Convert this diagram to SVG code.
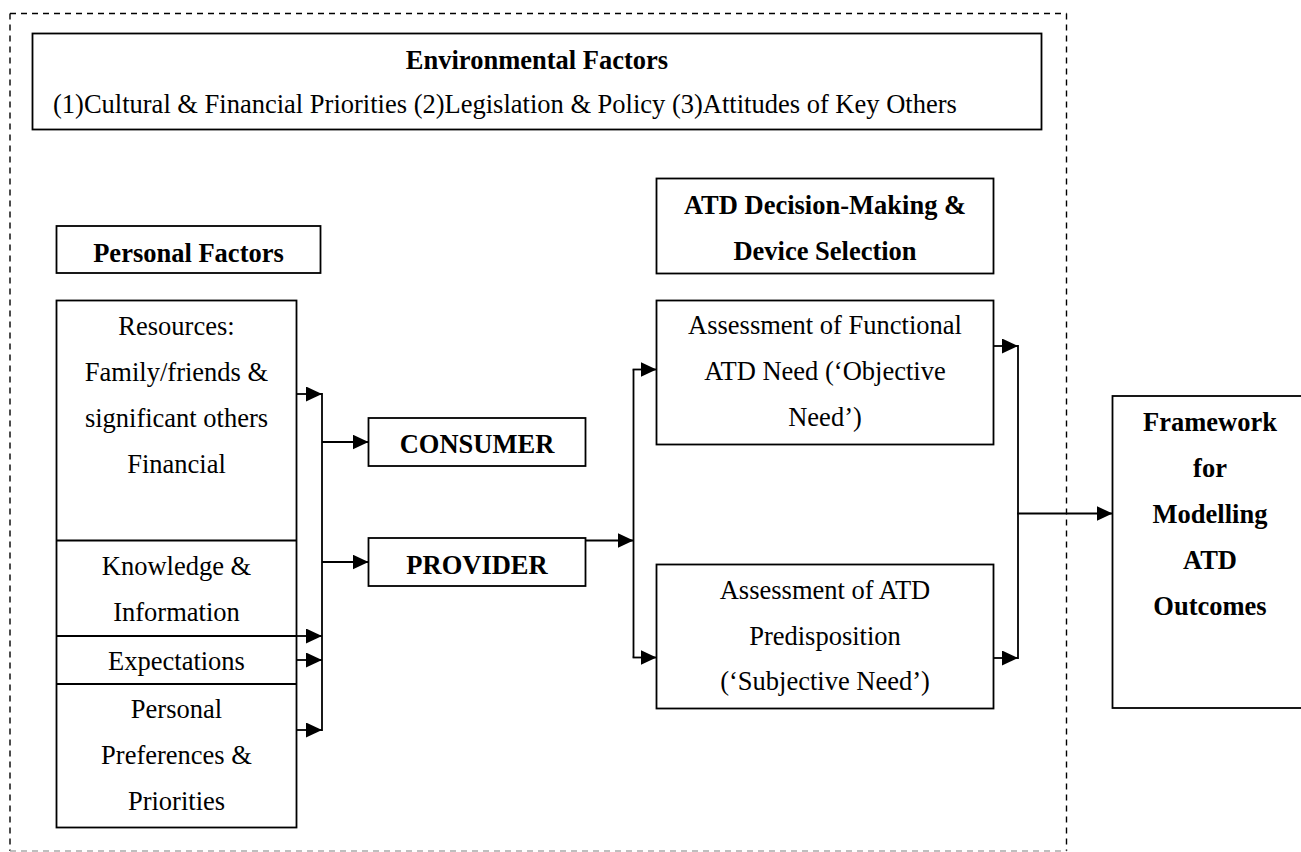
<svg xmlns="http://www.w3.org/2000/svg" width="1301" height="852" viewBox="0 0 1301 852">
  <style>
    .box { fill: #fff; stroke: #000; stroke-width: 1.8; }
    .div { stroke: #000; stroke-width: 1.8; fill: none; }
    .t { font-family: "Liberation Serif", "Times New Roman", serif; font-size: 26.5px; fill: #000; text-anchor: middle; }
    .b { font-weight: bold; }
    .s { text-anchor: start; }
    .wire { stroke: #000; stroke-width: 1.8; fill: none; }
    .arr { stroke: #000; stroke-width: 1.8; fill: none; marker-end: url(#head); }
    .dash { stroke: #000; stroke-width: 1.4; stroke-dasharray: 6 5; fill: none; }
  </style>
  <defs>
    <marker id="head" viewBox="0 0 16 15" refX="16" refY="7.5" markerWidth="16" markerHeight="15" markerUnits="userSpaceOnUse" orient="auto">
      <path d="M0,0 L16,7.5 L0,15 Z" fill="#000"/>
    </marker>
  </defs>
  <rect width="1301" height="852" fill="#fff"/>

  <!-- dashed boundary -->
  <g id="boundary">
    <line class="dash" x1="10" y1="13.5" x2="1066.5" y2="13.5"/>
    <line class="dash" x1="10" y1="13.5" x2="10" y2="851"/>
    <line class="dash" x1="1066.5" y1="13.5" x2="1066.5" y2="851"/>
    <line class="dash" x1="10" y1="851" x2="1066.5" y2="851" style="stroke:#aaa"/>
  </g>

  <g id="environmental">
    <rect class="box" x="32.5" y="33.5" width="1009" height="96"/>
    <text class="t b" x="537" y="69">Environmental Factors</text>
    <text class="t s" x="53" y="113">(1)Cultural &amp; Financial Priorities (2)Legislation &amp; Policy (3)Attitudes of Key Others</text>
  </g>

  <g id="personal-header">
    <rect class="box" x="56.5" y="226" width="264" height="47"/>
    <text class="t b" x="188.5" y="261.5">Personal Factors</text>
  </g>

  <g id="personal-factors">
    <rect class="box" x="56.5" y="300.5" width="240" height="527"/>
    <line class="div" x1="56.5" y1="540.5" x2="296.5" y2="540.5"/>
    <line class="div" x1="56.5" y1="636" x2="296.5" y2="636"/>
    <line class="div" x1="56.5" y1="684" x2="296.5" y2="684"/>
    <text class="t" x="176.5" y="335">Resources:</text>
    <text class="t" x="176.5" y="381">Family/friends &amp;</text>
    <text class="t" x="176.5" y="427">significant others</text>
    <text class="t" x="176.5" y="473">Financial</text>
    <text class="t" x="176.5" y="575">Knowledge &amp;</text>
    <text class="t" x="176.5" y="621">Information</text>
    <text class="t" x="176.5" y="670">Expectations</text>
    <text class="t" x="176.5" y="718">Personal</text>
    <text class="t" x="176.5" y="764">Preferences &amp;</text>
    <text class="t" x="176.5" y="810">Priorities</text>
  </g>

  <g id="consumer">
    <rect class="box" x="368.5" y="418" width="217" height="48"/>
    <text class="t b" x="477" y="453">CONSUMER</text>
  </g>

  <g id="provider">
    <rect class="box" x="368.5" y="538" width="217" height="48"/>
    <text class="t b" x="477" y="573.5">PROVIDER</text>
  </g>

  <g id="atd-header">
    <rect class="box" x="656.5" y="178.5" width="337" height="95"/>
    <text class="t b" x="825" y="213.5">ATD Decision-Making &amp;</text>
    <text class="t b" x="825" y="259.5">Device Selection</text>
  </g>

  <g id="objective-need">
    <rect class="box" x="656.5" y="300.5" width="337" height="144"/>
    <text class="t" x="825" y="334">Assessment of Functional</text>
    <text class="t" x="825" y="380">ATD Need (‘Objective</text>
    <text class="t" x="825" y="426">Need’)</text>
  </g>

  <g id="subjective-need">
    <rect class="box" x="656.5" y="564.5" width="337" height="144"/>
    <text class="t" x="825" y="598.5">Assessment of ATD</text>
    <text class="t" x="825" y="644.5">Predisposition</text>
    <text class="t" x="825" y="690">(‘Subjective Need’)</text>
  </g>

  <g id="framework">
    <rect class="box" x="1112.5" y="396" width="190" height="312"/>
    <text class="t b" x="1210" y="431">Framework</text>
    <text class="t b" x="1210" y="477">for</text>
    <text class="t b" x="1210" y="523">Modelling</text>
    <text class="t b" x="1210" y="569">ATD</text>
    <text class="t b" x="1210" y="615">Outcomes</text>
  </g>

  <g id="connectors">
    <!-- personal factors into left bus -->
    <line class="wire" x1="322" y1="393.1" x2="322" y2="730.9"/>
    <line class="arr" x1="296.5" y1="394" x2="322" y2="394"/>
    <line class="arr" x1="296.5" y1="636" x2="322" y2="636"/>
    <line class="arr" x1="296.5" y1="660" x2="322" y2="660"/>
    <line class="arr" x1="296.5" y1="730" x2="322" y2="730"/>
    <!-- bus to consumer / provider -->
    <line class="arr" x1="322" y1="442" x2="368.5" y2="442"/>
    <line class="arr" x1="322" y1="562" x2="368.5" y2="562"/>
    <!-- provider to assessment bus -->
    <line class="arr" x1="585.5" y1="540.5" x2="633.5" y2="540.5"/>
    <line class="wire" x1="633.5" y1="369.5" x2="633.5" y2="657.5"/>
    <line class="arr" x1="632.6" y1="369.5" x2="656.5" y2="369.5"/>
    <line class="arr" x1="632.6" y1="657.5" x2="656.5" y2="657.5"/>
    <!-- assessments to outcomes bus -->
    <line class="arr" x1="993.5" y1="346" x2="1018" y2="346"/>
    <line class="arr" x1="993.5" y1="658" x2="1018" y2="658"/>
    <line class="wire" x1="1018" y1="345.1" x2="1018" y2="658.9"/>
    <line class="arr" x1="1017.1" y1="513.5" x2="1112.5" y2="513.5"/>
  </g>
</svg>
